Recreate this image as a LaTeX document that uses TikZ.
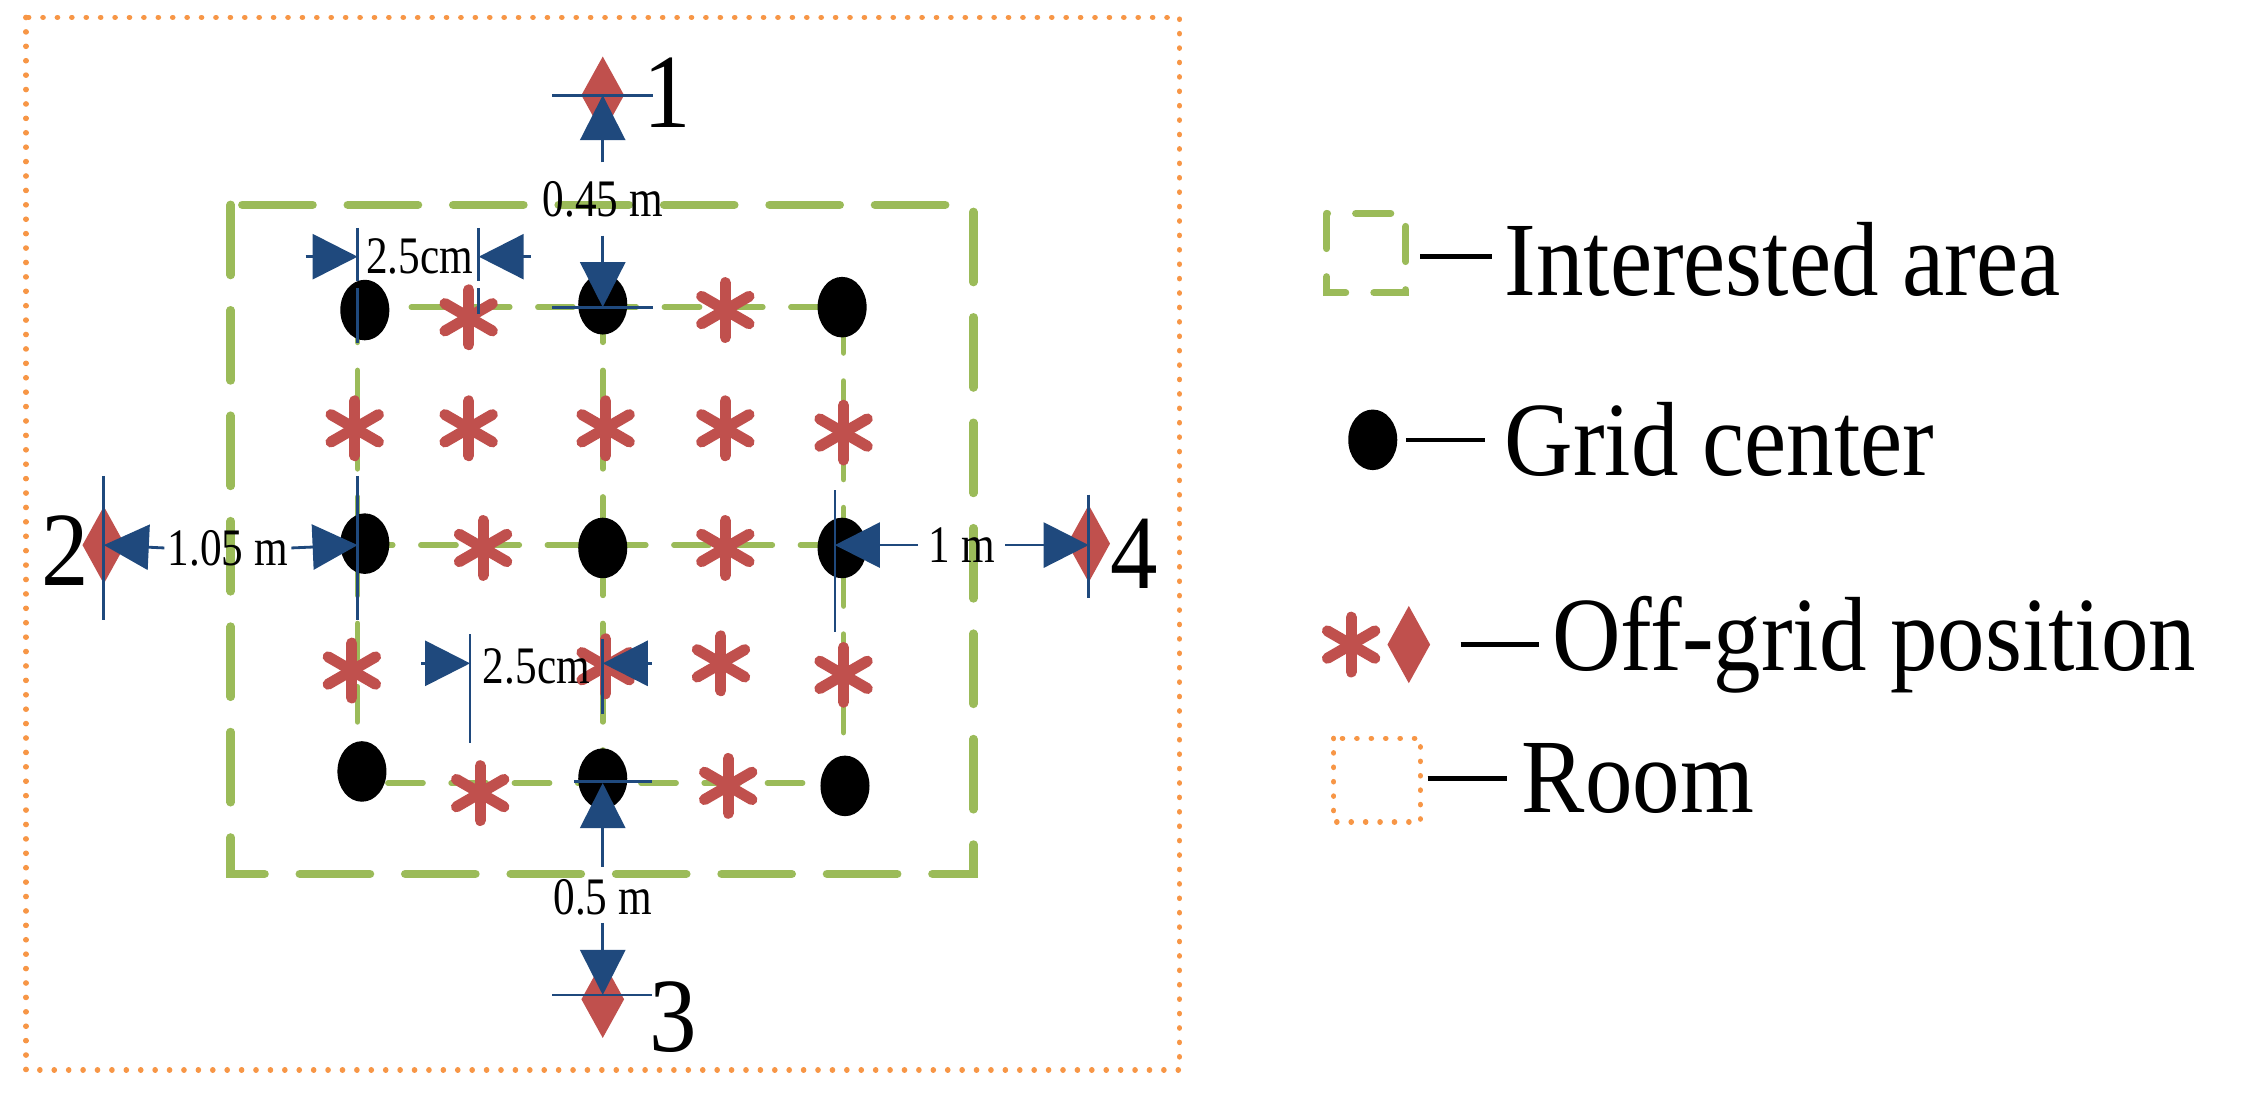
\documentclass[tikz,border=0pt]{standalone}
\usepackage{fontspec}
\setmainfont{Liberation Serif}
\usetikzlibrary{arrows.meta,shapes.geometric}
\definecolor{gr}{HTML}{9BBB59}
\definecolor{rd}{HTML}{C0504D}
\definecolor{bl}{HTML}{1F497D}
\definecolor{og}{HTML}{F79646}
\tikzset{
 dot/.style={ellipse,fill=black,minimum width=34*0.01442cm,minimum height=42*0.01442cm,inner sep=0},
 dia/.style={diamond,fill=rd,minimum width=30*0.01442cm,minimum height=54*0.01442cm,inner sep=0,aspect=0.55},
 ast/.pic={\foreach \a in {90,30,150}{\draw[rd,line width=1.1mm,line cap=round] (\a:19*0.01442cm) -- (\a+180:19*0.01442cm);}},
 dim/.style={bl,line width=0.8pt,-{Triangle[length=4.5mm,width=4.5mm]}},
 tick/.style={bl,line width=0.8pt},
 sm/.style={font=\fontsize{15}{15}\selectfont,inner sep=1pt,xscale=0.82},
 big/.style={font=\fontsize{30}{30}\selectfont,inner sep=0,xscale=0.9},
 gout/.style={gr,line width=2.4pt,dash pattern=on 20pt off 10pt,line cap=round},
 gin/.style={gr,line width=1.6pt,dash pattern=on 10pt off 8pt,line cap=round},
 room/.style={og,line width=1.5pt,dash pattern=on 0.1pt off 4pt,line cap=round},
 leg/.style={black,line width=1.3pt}
}
\begin{document}
\begin{tikzpicture}[x=0.01442cm,y=-0.01442cm]
\useasboundingbox (0,0) rectangle (1568,759);
% room
\draw[room] (18,12) rectangle (818,742);
% interested area
\draw[gout] (160,142) rectangle (675,606);
% inner grid
\draw[gin] (248,213) rectangle (585,543);
\draw[gin] (418,213) -- (418,543);
\draw[gin] (248,378) -- (585,378);
% grid centers
\foreach \x/\y/\n in {253/215/a1,418/211/a2,584/213/a3,253/377/b1,418/380/b2,584/380/b3,251/535/c1,418/540/c2,586/545/c3}
  \node[dot] (\n) at (\x,\y) {};
% off-grid asterisks
\foreach \x/\y in {325/220,503/215,246/297,325/297,420/297,503/297,585/300,335/380,503/380,244/465,420/462,500/460,585/468,333/550,505/545}
  \pic at (\x,\y) {ast};
% diamonds
\node[dia] (d1) at (418,66) {};
\node[dia] (d2) at (72,378) {};
\node[dia] (d4) at (755,377) {};
\node[dia] (d3) at (418,693) {};
\node[big,anchor=west] (n1) at (446,64) {1};
\node[big,anchor=east] (n2) at (62,382) {2};
\node[big,anchor=west] (n4) at (770,384) {4};
\node[big,anchor=west] (n3) at (450,705) {3};
% top dimension 0.45 m
\node[sm] (l045) at (418,138) {0.45 m};
\draw[tick] (383,66) -- (453,66);
\draw[tick] (383,213) -- (453,213);
\draw[dim] (l045.north) ++(0,-10) coordinate (t1) -- (418,66);
\draw[dim] (l045.south) ++(0,10) coordinate (t2) -- (418,213);
% top 2.5cm
\node[sm] (l25a) at (291,178) {2.5cm};
\draw[tick] (248,158) -- (248,195);
\draw[tick] (248,200) -- (248,238);
\draw[tick] (332,158) -- (332,195);
\draw[tick] (332,200) -- (332,218);
\coordinate (s1) at (212,178); \coordinate (s2) at (368,178);
\draw[dim] (s1) -- (248,178);
\draw[dim] (s2) -- (332,178);
% left 1.05 m
\node[sm] (l105) at (158,380) {1.05 m};
\draw[tick] (72,330) -- (72,430);
\draw[tick] (248,330) -- (248,430);
\draw[dim] (l105.west) -- (72,378);
\draw[dim] (l105.east) -- (248,378);
% right 1 m
\node[sm] (l1) at (667,378) {1 m};
\draw[tick] (579,340) -- (579,438);
\draw[tick] (755,343) -- (755,415);
\draw[dim] (l1.west) ++(-5,0) coordinate (r1) -- (579,378);
\draw[dim] (l1.east) ++(5,0) coordinate (r2) -- (755,378);
% middle 2.5cm
\node[sm] (l25b) at (372,462) {2.5cm};
\draw[tick] (326,440) -- (326,515);
\draw[tick] (418,443) -- (418,495);
\coordinate (m1) at (292,460); \coordinate (m2) at (452,460);
\draw[dim] (m1) -- (326,460);
\draw[dim] (m2) -- (418,460);
% bottom 0.5 m
\node[sm] (l05) at (418,622) {0.5 m};
\draw[tick] (398,542) -- (452,542);
\draw[tick] (383,690) -- (452,690);
\draw[dim] (418,601) coordinate (b1) -- (418,543);
\draw[dim] (418,640) coordinate (b2) -- (418,690);
% legend
\draw[gin,line width=2pt] (920,148) rectangle (975,203);
\draw[leg] (985,178) -- (1035,178);
\node[big,anchor=west] (t1) at (1043,180) {Interested area};
\node[dot] (ld) at (952,305) {};
\draw[leg] (975,305) -- (1030,305);
\node[big,anchor=west] (t2) at (1043,305) {Grid center};
\pic at (937,447) {ast};
\node[dia] (ldi) at (977,447) {};
\draw[leg] (1013,447) -- (1067,447);
\node[big,anchor=west] (t3) at (1076,447) {Off-grid position};
\draw[room] (925,512) rectangle (985,570);
\draw[leg] (990,540) -- (1045,540);
\node[big,anchor=west] (t4) at (1055,540) {Room};
\end{tikzpicture}
\end{document}
